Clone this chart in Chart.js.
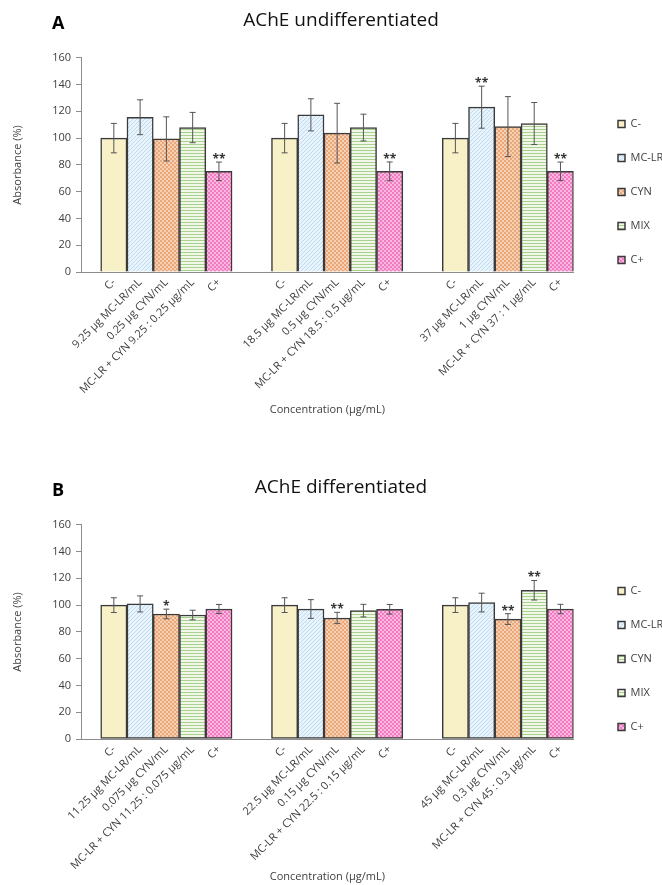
<!DOCTYPE html>
<html>
<head>
<meta charset="utf-8">
<title>AChE</title>
<script src="https://cdn.jsdelivr.net/npm/chart.js@4.4.1/dist/chart.umd.min.js"></script>
<style>
  html, body { margin: 0; padding: 0; background: #fff; overflow: hidden; }
  #wrap { position: relative; width: 662px; height: 885px; }
  canvas { position: absolute; left: 0; }
  #chartA { top: 0; }
  #chartB { top: 467px; }
</style>
</head>
<body>
<div id="wrap">
  <canvas id="chartA" width="662" height="418"></canvas>
  <canvas id="chartB" width="662" height="418"></canvas>
</div>
<script>
const seriesNames = ['C-', 'MC-LR', 'CYN', 'MIX', 'C+'];

// panel A - undifferentiated cells
const ticksA = [
  'C-', '9.25 µg MC-LR/mL', '0.25 µg CYN/mL', 'MC-LR + CYN 9.25 : 0.25 µg/mL', 'C+',
  'C-', '18.5 µg MC-LR/mL', '0.5 µg CYN/mL', 'MC-LR + CYN 18.5 : 0.5 µg/mL', 'C+',
  'C-', '37 µg MC-LR/mL', '1 µg CYN/mL', 'MC-LR + CYN 37 : 1 µg/mL', 'C+'
];
const cNegA = [100, 100, 100];
const mclrA = [115.6, 117.4, 123.1];
const cynA  = [99.4, 103.7, 108.6];
const mixA  = [107.9, 107.9, 110.9];
const cPosA = [75.2, 75.2, 75.2];
const cNegErrA = [11, 11, 11];
const mclrErrA = [13, 12, 15.7];
const cynErrA  = [16.5, 22.3, 22.4];
const mixErrA  = [11.3, 10, 15.7];
const cPosErrA = [6.9, 7, 6.9];
const mclrSigA = ['', '', '**'];
const cPosSigA = ['**', '**', '**'];

// panel B - differentiated cells
const ticksB = [
  'C-', '11.25 µg MC-LR/mL', '0.075 µg CYN/mL', 'MC-LR + CYN 11.25 : 0.075 µg/mL', 'C+',
  'C-', '22.5 µg MC-LR/mL', '0.15 µg CYN/mL', 'MC-LR + CYN 22.5 : 0.15 µg/mL', 'C+',
  'C-', '45 µg MC-LR/mL', '0.3 µg CYN/mL', 'MC-LR + CYN 45 : 0.3 µg/mL', 'C+'
];
const cNegB = [100, 100, 100];
const mclrB = [100.9, 97.1, 101.9];
const cynB  = [93.4, 90.4, 89.6];
const mixB  = [92.6, 95.9, 111.1];
const cPosB = [97.1, 96.9, 97.1];
const cNegErrB = [5.5, 5.5, 5.5];
const mclrErrB = [6, 7, 7];
const cynErrB  = [3.6, 4.2, 4];
const mixErrB  = [3.6, 4.7, 7.3];
const cPosErrB = [3.4, 3.6, 3.5];
const cynSigB = ['*', '**', '**'];
const mixSigB = ['', '', '**'];

const yTicks = [0, 20, 40, 60, 80, 100, 120, 140, 160];

// x positions: every bar is 2 units wide, a group of 5 takes 13 units
const GROUP_SPAN = 13;
function barX(group, item) {
  return group * GROUP_SPAN + 2.5 + item * 2;
}

const FONT = "'Open Sans', sans-serif";
const GREY = '#595959';
const DARK = '#404040';

function pattern(w, h, paint) {
  const c = document.createElement('canvas');
  c.width = w; c.height = h;
  const g = c.getContext('2d');
  paint(g);
  return g.createPattern(c, 'repeat');
}

const fills = [
  '#f8f1c8',
  pattern(4, 4, g => {
    g.fillStyle = '#e9f3fb'; g.fillRect(0, 0, 4, 4);
    g.strokeStyle = '#bfdbf0'; g.lineWidth = 1;
    g.beginPath(); g.moveTo(-1, 5); g.lineTo(5, -1); g.stroke();
  }),
  pattern(4, 4, g => {
    g.fillStyle = '#f6d0b2'; g.fillRect(0, 0, 4, 4);
    g.fillStyle = '#eaa779'; g.fillRect(0, 0, 2, 2); g.fillRect(2, 2, 2, 2);
  }),
  pattern(3, 3, g => {
    g.fillStyle = '#f1f8ea'; g.fillRect(0, 0, 3, 3);
    g.fillStyle = '#a9d18e'; g.fillRect(0, 0, 3, 1);
  }),
  pattern(4, 4, g => {
    g.fillStyle = '#f9b6de'; g.fillRect(0, 0, 4, 4);
    g.fillStyle = '#f27cc2'; g.fillRect(0, 0, 2, 2); g.fillRect(2, 2, 2, 2);
  })
];

function extras(panel) {
  return {
    id: 'extras' + panel.letter,
    afterLayout(chart) {
      // move title and legend to where they sit in the figure
      const t = chart.titleBlock;
      const shift = 341 - (t.left + t.right) / 2;
      t.left += shift; t.right += shift;
      const lg = chart.legend;
      const w = lg.right - lg.left;
      lg.left = 595; lg.right = 595 + w;
      lg.top = 95.5;
    },
    afterDatasetsDraw(chart) {
      const ctx = chart.ctx;
      const y = chart.scales.y;
      ctx.save();
      panel.values.forEach((vals, s) => {
        const meta = chart.getDatasetMeta(s);
        vals.forEach((v, g) => {
          const bar = meta.data[g];
          const e = panel.errors[s][g];
          const top = y.getPixelForValue(v + e);
          const bot = y.getPixelForValue(v - e);
          ctx.strokeStyle = '#555';
          ctx.lineWidth = 1;
          ctx.beginPath();
          ctx.moveTo(bar.x, top); ctx.lineTo(bar.x, bot);
          ctx.moveTo(bar.x - 3, top); ctx.lineTo(bar.x + 3, top);
          ctx.moveTo(bar.x - 3, bot); ctx.lineTo(bar.x + 3, bot);
          ctx.stroke();
          const sig = panel.sig[s] ? panel.sig[s][g] : '';
          if (sig) {
            ctx.fillStyle = '#333';
            ctx.font = 'bold 12px ' + FONT;
            ctx.textAlign = 'center';
            ctx.textBaseline = 'alphabetic';
            ctx.fillText(sig, bar.x, top + 1);
          }
        });
      });
      ctx.restore();
    },
    afterDraw(chart) {
      const ctx = chart.ctx;
      ctx.save();
      ctx.fillStyle = '#000';
      ctx.font = 'bold 18px ' + FONT;
      ctx.textAlign = 'left';
      ctx.textBaseline = 'alphabetic';
      ctx.fillText(panel.letter, 52, 29);
      ctx.restore();
    }
  };
}

function makeChart(id, panel) {
  const positions = [];
  for (let g = 0; g < 3; g++) {
    for (let k = 0; k < 5; k++) positions.push(barX(g, k));
  }
  const datasets = seriesNames.map((name, s) => ({
    label: name,
    data: panel.values[s].map((v, g) => ({ x: barX(g, s), y: v })),
    backgroundColor: fills[s],
    borderColor: '#3a3a3a',
    borderWidth: 1.5,
    borderSkipped: panel.skipBottom ? 'start' : false,
    grouped: false,
    barPercentage: 1,
    categoryPercentage: 1
  }));

  return new Chart(document.getElementById(id), {
    type: 'bar',
    data: { datasets },
    plugins: [extras(panel)],
    options: {
      responsive: false,
      animation: false,
      layout: { padding: { left: 0, right: 10, top: 0, bottom: 2 } },
      plugins: {
        tooltip: { enabled: false },
        title: {
          display: true,
          text: panel.title,
          color: '#111',
          font: { family: FONT, size: 19, weight: 'normal' },
          padding: { top: 9, bottom: 26 }
        },
        legend: {
          position: 'right',
          align: 'start',
          labels: {
            boxWidth: 7,
            boxHeight: 7,
            padding: 23,
            color: DARK,
            font: { family: FONT, size: 11 },
            generateLabels(chart) {
              const items = Chart.defaults.plugins.legend.labels.generateLabels(chart);
              if (panel.cynLegendLikeMix) items[2].fillStyle = items[3].fillStyle;
              return items;
            }
          }
        }
      },
      scales: {
        x: {
          type: 'linear',
          min: 0,
          max: 37.5,
          offset: false,
          bounds: 'data',
          grid: { display: false, drawTicks: false },
          border: { display: true, color: '#8c8c8c', width: 1 },
          afterBuildTicks(scale) {
            scale.ticks = positions.map(v => ({ value: v }));
          },
          afterFit(scale) { scale.height = 144; },
          ticks: {
            autoSkip: false,
            minRotation: 45,
            maxRotation: 45,
            padding: 4,
            color: DARK,
            font: { family: FONT, size: 11 },
            callback: (value, index) => panel.ticks[index]
          },
          title: {
            display: true,
            text: 'Concentration (µg/mL)',
            color: DARK,
            font: { family: FONT, size: 11 },
            padding: { top: 0, bottom: 0 }
          }
        },
        y: {
          min: 0,
          max: 160,
          afterBuildTicks(scale) {
            scale.ticks = yTicks.map(v => ({ value: v }));
          },
          afterFit(scale) { scale.width = 81; },
          grid: { drawOnChartArea: false, drawTicks: true, tickLength: 5, color: '#8c8c8c' },
          border: { display: true, color: '#8c8c8c', width: 1 },
          ticks: {
            padding: 5,
            color: DARK,
            font: { family: FONT, size: 11 }
          },
          title: {
            display: true,
            text: 'Absorbance (%)',
            color: DARK,
            font: { family: FONT, size: 11 },
            padding: { top: 11, bottom: 0 }
          }
        }
      }
    }
  });
}

makeChart('chartA', {
  letter: 'A',
  title: 'AChE undifferentiated',
  ticks: ticksA,
  values: [cNegA, mclrA, cynA, mixA, cPosA],
  errors: [cNegErrA, mclrErrA, cynErrA, mixErrA, cPosErrA],
  sig: [null, mclrSigA, null, null, cPosSigA],
  skipBottom: true,
  cynLegendLikeMix: false
});

makeChart('chartB', {
  letter: 'B',
  title: 'AChE differentiated',
  ticks: ticksB,
  values: [cNegB, mclrB, cynB, mixB, cPosB],
  errors: [cNegErrB, mclrErrB, cynErrB, mixErrB, cPosErrB],
  sig: [null, null, cynSigB, mixSigB, null],
  skipBottom: false,
  cynLegendLikeMix: true
});
</script>
</body>
</html>
